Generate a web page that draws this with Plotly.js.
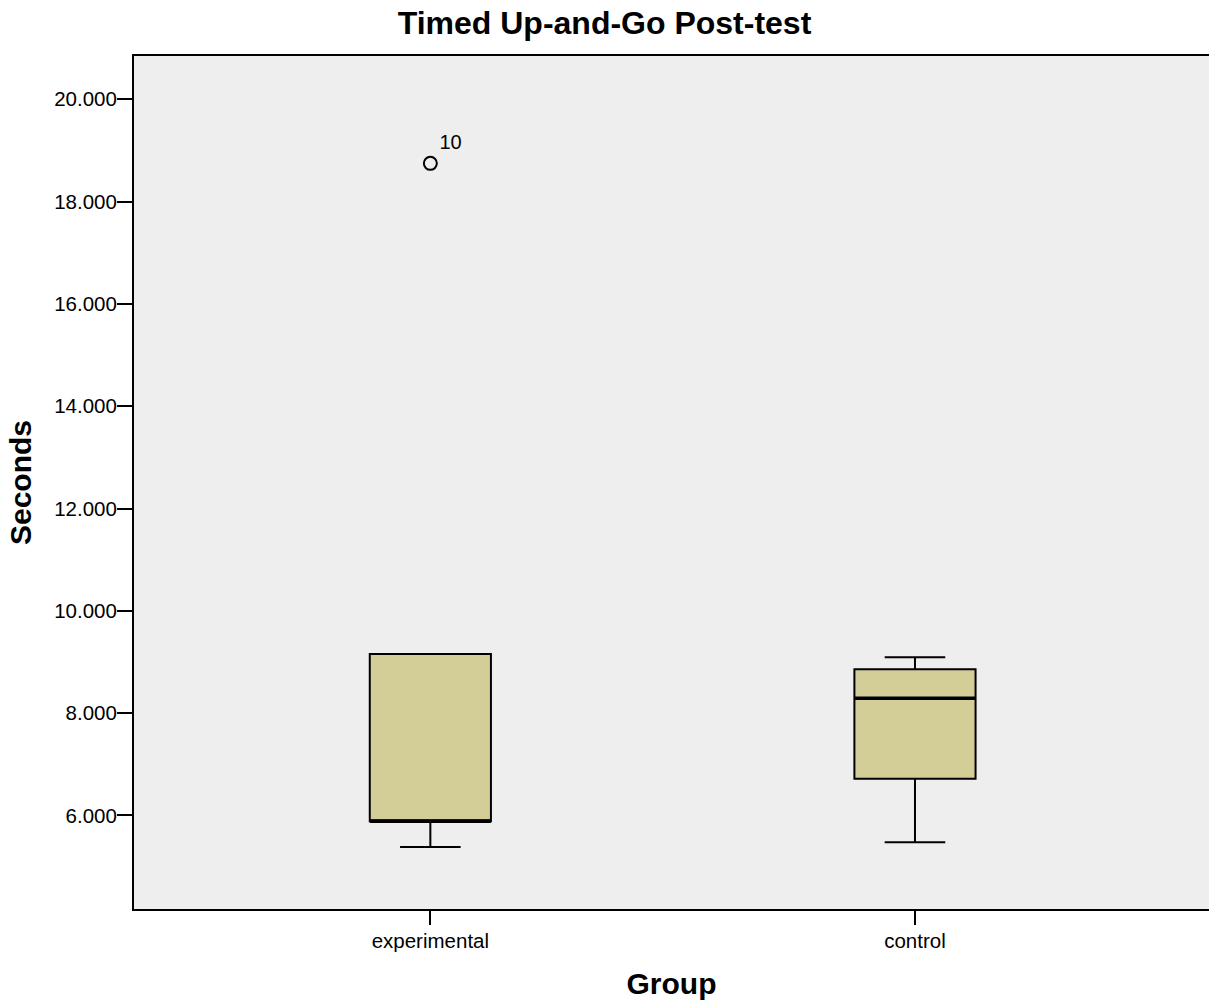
<!DOCTYPE html>
<html>
<head>
<meta charset="utf-8">
<script src="https://cdn.plot.ly/plotly-3.0.1.min.js"></script>
<style>
  html, body { margin: 0; padding: 0; background: #ffffff; }
  #chart { width: 1209px; height: 1007px; }
</style>
</head>
<body>
<div id="chart"></div>
<script>
// Groups and their box-plot summaries (seconds)
const groups = ["experimental", "control"];
const lowerWhisker = [5.384, 5.476];
const q1 = [5.887, 6.719];
const median = [5.887, 8.291];
const q3 = [9.157, 8.858];
const upperWhisker = [9.157, 9.092];

// Outlying case, labelled by its case number
const outlierGroup = [0];
const outlierValue = [18.748];
const outlierCase = ["10"];

const yTicks = [6, 8, 10, 12, 14, 16, 18, 20];

const boxFill = "#D3CE98";
const boxHalf = 0.125;

const traces = groups.map((g, i) => ({
  type: "box",
  name: g,
  x: [i],
  q1: [q1[i]],
  median: [median[i]],
  q3: [q3[i]],
  lowerfence: [lowerWhisker[i]],
  upperfence: [upperWhisker[i]],
  boxpoints: false,
  width: boxHalf * 2,
  whiskerwidth: 0.5,
  fillcolor: boxFill,
  line: { color: "#000000", width: 2 },
  hoverinfo: "y",
  showlegend: false
}));

traces.push({
  type: "scatter",
  mode: "markers+text",
  x: outlierGroup,
  y: outlierValue,
  text: outlierCase,
  textposition: "top right",
  textfont: { family: "Liberation Sans, Arial, sans-serif", size: 20, color: "#000000" },
  marker: { symbol: "circle-open", size: 13, color: "#000000", line: { width: 2, color: "#000000" } },
  showlegend: false,
  hoverinfo: "y"
});

// Heavier median bars drawn over each box
const medianShapes = groups.map((g, i) => ({
  type: "line",
  xref: "x", yref: "y",
  x0: i - boxHalf, x1: i + boxHalf,
  y0: median[i], y1: median[i],
  line: { color: "#000000", width: 3.5 }
}));

const layout = {
  width: 1209,
  height: 1007,
  paper_bgcolor: "#ffffff",
  plot_bgcolor: "#EEEEEE",
  margin: { l: 133.5, r: 0, t: 56, b: 98 },
  font: { family: "Liberation Sans, Arial, sans-serif", color: "#000000" },
  title: {
    text: "<b>Timed Up-and-Go Post-test</b>",
    font: { size: 32, color: "#000000" },
    x: 0.5, xanchor: "center",
    y: 0.977, yanchor: "middle"
  },
  xaxis: {
    range: [-0.6115, 1.6067],
    tickvals: [0, 1],
    ticktext: groups,
    ticks: "outside",
    ticklen: 14,
    tickwidth: 2,
    tickcolor: "#000000",
    tickfont: { size: 20.5 },
    ticklabelstandoff: -2,
    showline: true,
    linecolor: "#000000",
    linewidth: 2,
    mirror: true,
    showgrid: false,
    zeroline: false,
    title: { text: "<b>Group</b>", font: { size: 30 }, standoff: 22 }
  },
  yaxis: {
    range: [4.172, 20.846],
    tickvals: yTicks,
    tickformat: ".3f",
    ticks: "outside",
    ticklen: 15,
    tickwidth: 2,
    tickcolor: "#000000",
    tickfont: { size: 20.5 },
    ticklabelstandoff: -4,
    showline: true,
    linecolor: "#000000",
    linewidth: 2,
    showgrid: false,
    zeroline: false,
    title: { text: "<b>Seconds</b>", font: { size: 30 }, standoff: 14 }
  },
  shapes: medianShapes
};

Plotly.newPlot("chart", traces, layout, { displayModeBar: false, staticPlot: true });
</script>
</body>
</html>
